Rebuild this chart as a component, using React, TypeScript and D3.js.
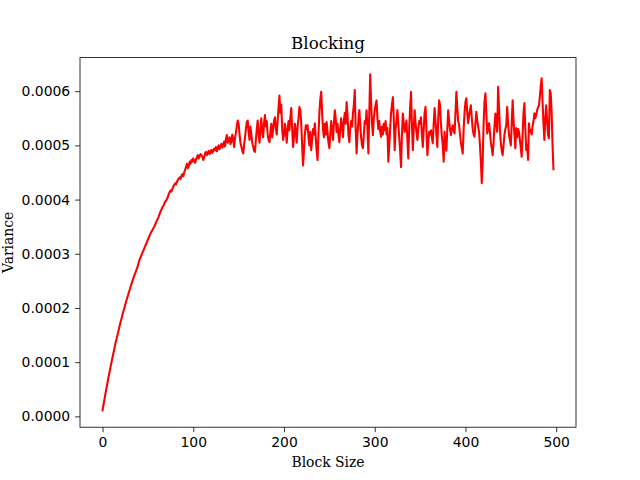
import React, { useRef, useEffect } from 'react';
import * as d3 from 'd3';

// variance per block size, in units of 1e-6
const varianceMicro: number[] = [
  11, 21, 30, 40, 49, 58, 67, 76, 84, 93,
  101, 109, 117, 125, 133, 140, 147, 154, 161, 168,
  175, 181, 188, 194, 200, 206, 212, 218, 223, 229,
  234, 240, 245, 250, 255, 260, 264, 269, 273, 278,
  285, 290, 294, 298, 302, 306, 310, 314, 318, 322,
  326, 330, 334, 338, 341, 344, 347, 350, 354, 358,
  362, 365, 369, 374, 378, 382, 386, 388, 392, 396,
  398, 401, 405, 410, 414, 417, 415, 420, 424, 427,
  430, 428, 433, 436, 439, 441, 438, 444, 447, 443,
  450, 455, 460, 466, 458, 462, 470, 466, 473, 470,
  476, 472, 468, 474, 478, 482, 476, 480, 484, 482,
  479, 473, 478, 485, 488, 482, 486, 490, 484, 488,
  492, 486, 490, 494, 491, 497, 489, 495, 500, 493,
  498, 503, 496, 501, 507, 498, 512, 519, 505, 510,
  515, 502, 508, 520, 511, 497, 514, 524, 535, 546,
  540, 520, 505, 498, 490, 485, 500, 515, 530, 543,
  546, 525, 510, 535, 520, 505, 498, 490, 488, 510,
  530, 546, 520, 505, 530, 550, 525, 515, 540, 556,
  535, 545, 520, 510, 506, 525, 540, 515, 530, 545,
  552, 530, 520, 545, 570, 592, 560, 575, 530, 510,
  520, 540, 525, 505, 530, 545, 528, 550, 569, 530,
  497, 515, 540, 525, 505, 535, 550, 571, 565, 540,
  500, 463, 490, 520, 537, 530, 537, 515, 500, 525,
  491, 510, 530, 520, 541, 515, 490, 473, 520, 560,
  585, 599, 560, 530, 515, 540, 520, 543, 525, 505,
  495, 520, 545, 530, 510, 540, 565, 550, 525, 540,
  520, 506, 530, 550, 535, 515, 545, 560, 540, 580,
  555, 520, 506, 530, 545, 535, 559, 575, 602, 530,
  485, 520, 545, 565, 540, 515, 500, 495, 520, 545,
  540, 565, 530, 485, 560, 631, 580, 540, 519, 550,
  565, 575, 583, 550, 530, 545, 525, 516, 535, 520,
  540, 528, 545, 520, 532, 470, 500, 530, 560, 575,
  589, 550, 491, 530, 545, 565, 540, 515, 490, 460,
  520, 559, 540, 525, 535, 546, 510, 476, 530, 570,
  599, 540, 491, 530, 565, 540, 525, 510, 530, 545,
  540, 552, 520, 497, 530, 560, 571, 530, 482, 505,
  525, 520, 528, 515, 504, 540, 569, 545, 520, 497,
  550, 583, 574, 540, 516, 500, 470, 525, 500, 490,
  530, 565, 545, 530, 519, 530, 537, 528, 522, 560,
  599, 570, 545, 538, 520, 505, 495, 485, 530, 560,
  580, 587, 560, 541, 555, 565, 574, 550, 530, 520,
  516, 540, 562, 545, 535, 525, 500, 470, 430, 470,
  540, 580, 596, 560, 522, 530, 541, 525, 505, 495,
  482, 505, 535, 559, 540, 525, 608, 570, 530, 505,
  490, 482, 500, 520, 530, 537, 571, 540, 520, 510,
  500, 540, 583, 545, 520, 495, 532, 515, 530, 525,
  510, 495, 479, 520, 560, 578, 530, 491, 500, 473,
  541, 525, 528, 520, 535, 545, 559, 550, 556, 565,
  570, 574, 590, 610, 624, 580, 540, 510, 550, 574,
  545, 520, 513, 602, 596, 560, 500, 456,
];

const xTicks = [0, 100, 200, 300, 400, 500];
const yTicks = [0, 0.0001, 0.0002, 0.0003, 0.0004, 0.0005, 0.0006];

const WIDTH = 640;
const HEIGHT = 480;
const margin = { left: 80, right: 64, top: 57.6, bottom: 52.8 };

const App: React.FC = () => {
  const svgRef = useRef<SVGSVGElement>(null);

  useEffect(() => {
    if (!svgRef.current) return;
    const svg = d3.select(svgRef.current);
    svg.selectAll('*').remove();

    const data = varianceMicro.map((v, i) => ({ x: i, y: v * 1e-6 }));

    const x0 = margin.left;
    const x1 = WIDTH - margin.right;
    const y0 = HEIGHT - margin.bottom;
    const y1 = margin.top;

    // matplotlib style 5% margins
    const [xmin, xmax] = d3.extent(data, d => d.x) as [number, number];
    const [ymin, ymax] = d3.extent(data, d => d.y) as [number, number];
    const xpad = (xmax - xmin) * 0.05;
    const ypad = (ymax - ymin) * 0.05;

    const xScale = d3.scaleLinear().domain([xmin - xpad, xmax + xpad]).range([x0, x1]);
    const yScale = d3.scaleLinear().domain([ymin - ypad, ymax + ypad]).range([y0, y1]);

    svg.append('rect')
      .attr('width', WIDTH)
      .attr('height', HEIGHT)
      .attr('fill', 'white');

    const line = d3.line<{ x: number; y: number }>()
      .x(d => xScale(d.x))
      .y(d => yScale(d.y));

    svg.append('path')
      .datum(data)
      .attr('fill', 'none')
      .attr('stroke', 'red')
      .attr('stroke-width', 2.08)
      .attr('stroke-linejoin', 'round')
      .attr('stroke-linecap', 'square')
      .attr('d', line);

    const tickFont = 'DejaVu Sans, sans-serif';
    const labelFont = 'DejaVu Serif, serif';

    // x axis
    const xAxis = svg.append('g')
      .attr('transform', `translate(0, ${y0})`)
      .call(d3.axisBottom(xScale).tickValues(xTicks).tickFormat(d3.format('d')).tickSize(4.9).tickPadding(4.9));
    // y axis
    const yAxis = svg.append('g')
      .attr('transform', `translate(${x0}, 0)`)
      .call(d3.axisLeft(yScale).tickValues(yTicks).tickFormat(d3.format('.4f')).tickSize(4.9).tickPadding(4.9));

    [xAxis, yAxis].forEach(g => {
      g.select('.domain').remove();
      g.selectAll('line').attr('stroke', 'black').attr('stroke-width', 0.8);
      g.selectAll('text')
        .attr('fill', 'black')
        .style('font-family', tickFont)
        .style('font-size', '13.9px');
    });

    // frame
    svg.append('rect')
      .attr('x', x0)
      .attr('y', y1)
      .attr('width', x1 - x0)
      .attr('height', y0 - y1)
      .attr('fill', 'none')
      .attr('stroke', 'black')
      .attr('stroke-width', 0.8);

    svg.append('text')
      .attr('x', (x0 + x1) / 2)
      .attr('y', y1 - 8.3)
      .style('text-anchor', 'middle')
      .style('font-family', labelFont)
      .style('font-size', '16.7px')
      .text('Blocking');

    svg.append('text')
      .attr('x', (x0 + x1) / 2)
      .attr('y', 467)
      .style('text-anchor', 'middle')
      .style('font-family', labelFont)
      .style('font-size', '13.9px')
      .text('Block Size');

    svg.append('text')
      .attr('transform', `translate(13, ${(y0 + y1) / 2}) rotate(-90)`)
      .style('text-anchor', 'middle')
      .style('font-family', labelFont)
      .style('font-size', '13.9px')
      .text('Variance');
  }, []);

  return (
    <svg
      ref={svgRef}
      width={WIDTH}
      height={HEIGHT}
      style={{ position: 'absolute', left: 0, top: 0 }}
    />
  );
};

export default App;
